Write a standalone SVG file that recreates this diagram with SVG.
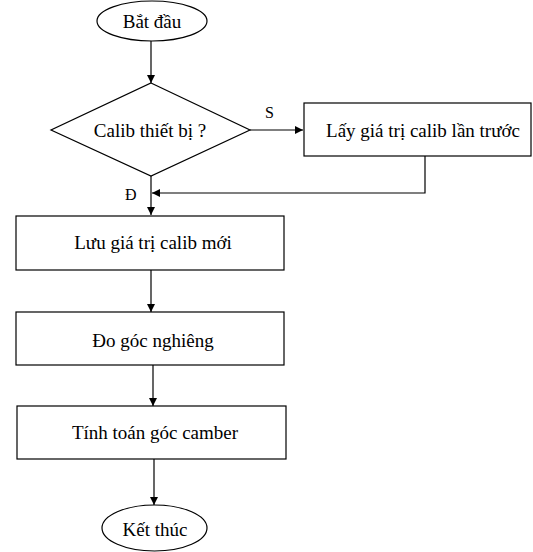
<svg xmlns="http://www.w3.org/2000/svg" width="533" height="552" viewBox="0 0 533 552">
  <style>
    .shape { fill: #ffffff; stroke: #000000; stroke-width: 1.2; }
    .label { font-family: "Liberation Serif", "Times New Roman", serif; font-size: 19px; fill: #000000; text-anchor: middle; }
    .edge { fill: none; stroke: #000000; stroke-width: 1.2; }
    .tag { font-family: "Liberation Serif", "Times New Roman", serif; font-size: 16px; fill: #000000; }
  </style>
  <defs>
    <marker id="arrow" viewBox="0 0 10 10" refX="10" refY="5" markerWidth="8" markerHeight="8" markerUnits="userSpaceOnUse" orient="auto">
      <path d="M0,0 L10,5 L0,10 Z" fill="#000000"/>
    </marker>
  </defs>
  <rect width="533" height="552" fill="#ffffff"/>

  <g id="edges">
    <line class="edge" x1="151" y1="41" x2="151" y2="83" marker-end="url(#arrow)"/>
    <line class="edge" x1="250" y1="130" x2="303" y2="130" marker-end="url(#arrow)"/>
    <polyline class="edge" points="425,156 425,193 152,193" marker-end="url(#arrow)" stroke="#444444"/>
    <line class="edge" x1="151" y1="176" x2="151" y2="215" marker-end="url(#arrow)"/>
    <line class="edge" x1="151" y1="270" x2="151" y2="312" marker-end="url(#arrow)"/>
    <line class="edge" x1="153" y1="365" x2="153" y2="406" marker-end="url(#arrow)"/>
    <line class="edge" x1="154" y1="459" x2="154" y2="505" marker-end="url(#arrow)"/>
    <text class="tag" x="265" y="118">S</text>
    <text class="tag" x="125" y="200">Đ</text>
  </g>

  <g id="start">
    <ellipse class="shape" cx="152" cy="21" rx="55" ry="20"/>
    <text class="label" x="152" y="28">Bắt đầu</text>
  </g>

  <g id="decision">
    <polygon class="shape" points="151,83 250,130 151,176 51,130"/>
    <text class="label" x="150" y="137">Calib thiết bị ?</text>
  </g>

  <g id="load-previous">
    <rect class="shape" x="304" y="103" width="227" height="53"/>
    <text class="label" x="423" y="137">Lấy giá trị calib lần trước</text>
  </g>

  <g id="save-new">
    <rect class="shape" x="16" y="216" width="268" height="54"/>
    <text class="label" x="153" y="249">Lưu giá trị calib mới</text>
  </g>

  <g id="measure">
    <rect class="shape" x="16" y="312" width="268" height="53"/>
    <text class="label" x="153" y="347">Đo góc nghiêng</text>
  </g>

  <g id="compute">
    <rect class="shape" x="17" y="406" width="269" height="53"/>
    <text class="label" x="155" y="439">Tính toán góc camber</text>
  </g>

  <g id="end">
    <ellipse class="shape" cx="154.5" cy="528" rx="52.5" ry="23"/>
    <text class="label" x="155" y="536">Kết thúc</text>
  </g>
</svg>
